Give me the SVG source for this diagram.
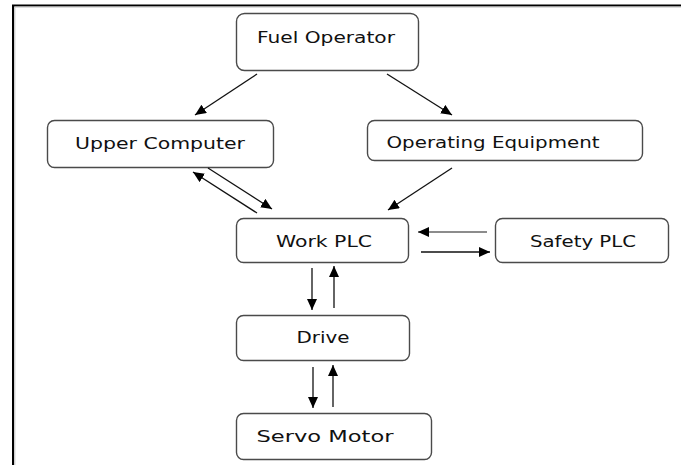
<svg xmlns="http://www.w3.org/2000/svg" width="681" height="465" viewBox="0 0 681 465">
<style>
.box{fill:#fff;stroke:#4a4a4a;stroke-width:1.4}
.lbl{font-family:"DejaVu Sans",Verdana,sans-serif;font-size:15px;fill:#111;text-anchor:middle}
.con{stroke:#111;stroke-width:1.3;fill:none;marker-end:url(#ah)}
.frame{stroke:#000;stroke-width:2;fill:none}
</style>
<defs>
<marker id="ah" markerUnits="userSpaceOnUse" markerWidth="12" markerHeight="10" refX="11" refY="5" orient="auto">
<path d="M0,0 L11,5 L0,10 Z" fill="#000"/>
</marker>
</defs>
<rect width="681" height="465" fill="#fff"/>
<path class="frame" d="M13,465 V5.5 H681"/>
<path d="M14.8,465 V7" stroke="#bbb" stroke-width="1" fill="none"/>
<path d="M15,7 H681" stroke="#bbb" stroke-width="1" fill="none"/>
<g id="fuel-operator">
<rect class="box" x="236.5" y="13.5" width="182" height="57" rx="8"/>
<text class="lbl" x="326" y="43" textLength="138" lengthAdjust="spacingAndGlyphs">Fuel Operator</text>
</g>
<g id="upper-computer">
<rect class="box" x="47.5" y="120.5" width="226" height="47" rx="7"/>
<text class="lbl" x="160" y="149" textLength="170" lengthAdjust="spacingAndGlyphs">Upper Computer</text>
</g>
<g id="operating-equipment">
<rect class="box" x="367.5" y="120.5" width="275" height="40" rx="7"/>
<text class="lbl" x="493" y="148" textLength="213" lengthAdjust="spacingAndGlyphs">Operating Equipment</text>
</g>
<g id="work-plc">
<rect class="box" x="236.5" y="218.5" width="172" height="44" rx="7"/>
<text class="lbl" x="324" y="247" textLength="96" lengthAdjust="spacingAndGlyphs">Work PLC</text>
</g>
<g id="safety-plc">
<rect class="box" x="495.5" y="218.5" width="173" height="44" rx="7"/>
<text class="lbl" x="583" y="247" textLength="106" lengthAdjust="spacingAndGlyphs">Safety PLC</text>
</g>
<g id="drive">
<rect class="box" x="236.5" y="315.5" width="173" height="45" rx="7"/>
<text class="lbl" x="323" y="343" textLength="53" lengthAdjust="spacingAndGlyphs">Drive</text>
</g>
<g id="servo-motor">
<rect class="box" x="236.5" y="413.5" width="195" height="46" rx="7"/>
<text class="lbl" x="325" y="442" textLength="137" lengthAdjust="spacingAndGlyphs">Servo Motor</text>
</g>
<g id="connectors">
<line class="con" x1="257" y1="74" x2="195" y2="115"/>
<line class="con" x1="387" y1="74" x2="452" y2="115"/>
<line class="con" x1="257" y1="213" x2="193" y2="172"/>
<line class="con" x1="208" y1="168" x2="272" y2="209"/>
<line class="con" x1="452" y1="168" x2="388" y2="210"/>
<line class="con" x1="487" y1="232" x2="418" y2="232" style="stroke:#666"/>
<line class="con" x1="421" y1="252" x2="490" y2="252"/>
<line class="con" x1="312" y1="268" x2="312" y2="310"/>
<line class="con" x1="334" y1="308" x2="334" y2="266"/>
<line class="con" x1="313" y1="367" x2="313" y2="408"/>
<line class="con" x1="333" y1="407" x2="333" y2="365"/>
</g>
</svg>
